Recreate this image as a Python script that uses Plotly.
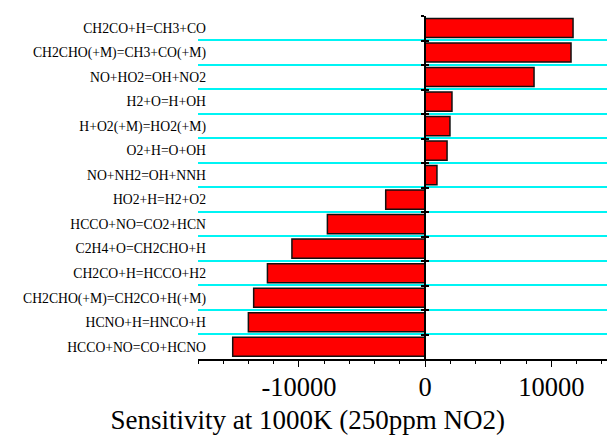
import plotly.graph_objects as go

reactions = [
    "CH2CO+H=CH3+CO",
    "CH2CHO(+M)=CH3+CO(+M)",
    "NO+HO2=OH+NO2",
    "H2+O=H+OH",
    "H+O2(+M)=HO2(+M)",
    "O2+H=O+OH",
    "NO+NH2=OH+NNH",
    "HO2+H=H2+O2",
    "HCCO+NO=CO2+HCN",
    "C2H4+O=CH2CHO+H",
    "CH2CO+H=HCCO+H2",
    "CH2CHO(+M)=CH2CO+H(+M)",
    "HCNO+H=HNCO+H",
    "HCCO+NO=CO+HCNO",
]
sensitivity = [11710, 11550, 8620, 2120, 1960, 1730, 930,
               -3130, -7750, -10560, -12500, -13590, -14010, -15250]

x_title = "Sensitivity at 1000K (250ppm NO2)"
x_range = [-18000, 14400]
x_tickvals = [-10000, 0, 10000]

FONT = "Liberation Serif"

fig = go.Figure()
fig.add_trace(go.Bar(
    x=sensitivity, y=reactions, orientation="h",
    marker=dict(color="#ff0000", line=dict(color="#111111", width=1.5)),
    width=0.78, showlegend=False, hoverinfo="x+y",
))
# invisible helper traces so the zero-line axes carry the categories
for ax in ["y2", "y3"]:
    fig.add_trace(go.Scatter(
        x=[0] * len(reactions), y=reactions, yaxis=ax, mode="markers",
        marker=dict(size=1, opacity=0), showlegend=False, hoverinfo="skip",
    ))

zero_pos = (0 - x_range[0]) / (x_range[1] - x_range[0])
n = len(reactions)
yr = [n - 0.5, -0.5]
yr_grid = [n - 0.5, -0.49]

fig.update_layout(
    width=607, height=436,
    margin=dict(l=198, r=0, t=16, b=77),
    paper_bgcolor="white", plot_bgcolor="white",
    font=dict(family=FONT, color="black"),
    title=dict(text=x_title, font=dict(size=27, family=FONT, color="black"),
               x=0.507, xanchor="center", xref="container",
               y=0.037, yanchor="middle", yref="container"),
    xaxis=dict(
        range=x_range, tickvals=x_tickvals, ticktext=[f"{v:d}" for v in x_tickvals],
        ticks="outside", ticklen=6, tickwidth=1, tickcolor="black",
        minor=dict(dtick=2000, tick0=0, ticks="outside", ticklen=3,
                   tickwidth=1, tickcolor="black", showgrid=False),
        showline=True, linecolor="black", linewidth=1.5,
        showgrid=False, zeroline=False,
        tickfont=dict(size=26.5, family=FONT), ticklabelstandoff=-3,
    ),
    yaxis=dict(
        type="category", categoryorder="array", categoryarray=reactions,
        range=yr_grid, tickson="boundaries", ticks="", showline=False,
        showgrid=True, gridcolor="#00f4f4", gridwidth=1.5,
        tickfont=dict(size=13.7, family=FONT), ticklabelstandoff=-9,
        zeroline=False,
    ),
    yaxis2=dict(
        type="category", categoryorder="array", categoryarray=reactions,
        range=yr, overlaying="y", anchor="free", position=zero_pos, side="left",
        tickson="boundaries", ticks="outside", ticklen=3, tickwidth=1.5,
        tickcolor="black", showticklabels=False, showgrid=False,
        showline=True, linecolor="black", linewidth=2, zeroline=False,
    ),
    yaxis3=dict(
        type="category", categoryorder="array", categoryarray=reactions,
        range=yr, overlaying="y", anchor="free", position=zero_pos, side="left",
        tickson="boundaries", ticks="inside", ticklen=3, tickwidth=1.5,
        tickcolor="black", showticklabels=False, showgrid=False,
        showline=False, zeroline=False,
    ),
)

fig.write_html("out.html")
